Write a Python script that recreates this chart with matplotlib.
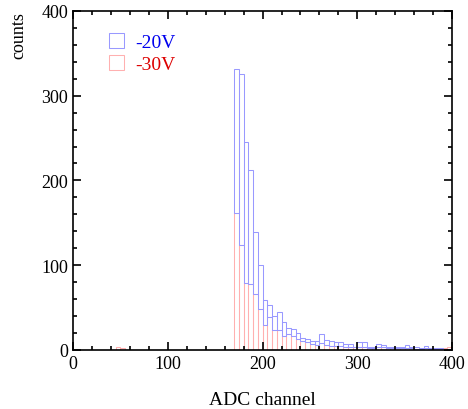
import numpy as np
import matplotlib.pyplot as plt
from matplotlib.patches import Patch
from matplotlib.ticker import MultipleLocator

# histogram bins (left edges, width 5 channels)
bin_width = 5
bins = np.arange(170, 400, 5)

# stacked histogram: -30V at the bottom, total height on top
counts_total = [332, 326, 245, 212, 139, 100, 59, 53, 40, 45,
                33, 26, 25, 20, 14, 13, 11, 10, 19, 12,
                11, 9, 9, 7, 7, 4, 9, 9, 3, 3,
                7, 6, 3, 3, 3, 3, 6, 3, 3, 2,
                5, 2, 2, 2, 2, 4]
counts_30 = [162, 124, 79, 78, 66, 48, 29, 39, 24, 23,
             17, 19, 17, 13, 11, 9, 7, 6, 8, 6,
             5, 5, 5, 3, 4, 3, 4, 3, 2, 2,
             3, 3, 2, 2, 2, 2, 2, 2, 1, 1,
             2, 1, 1, 1, 2, 4]
# a few stray -30V entries at low channel
low_bins = [45, 50]
low_counts_30 = [3, 2]

counts_20 = np.array(counts_total) - np.array(counts_30)

blue = '#9999ff'
red = '#ffb0b0'

plt.rcParams['font.family'] = ['Liberation Serif', 'DejaVu Serif']

fig = plt.figure(figsize=(4.68, 4.10), dpi=100)
ax = fig.add_axes([0.156, 0.144, 0.81, 0.827])

ax.bar(low_bins, low_counts_30, width=bin_width, align='edge',
       facecolor='none', edgecolor=red, linewidth=0.75)
ax.bar(bins, counts_30, width=bin_width, align='edge',
       facecolor='none', edgecolor=red, linewidth=0.75)
m = counts_20 > 0
ax.bar(bins[m], counts_20[m], bottom=np.array(counts_30)[m], width=bin_width,
       align='edge', facecolor='none', edgecolor=blue, linewidth=0.75)

ax.set_xlim(0, 400)
ax.set_ylim(0, 400)
ax.xaxis.set_major_locator(MultipleLocator(100))
ax.xaxis.set_minor_locator(MultipleLocator(20))
ax.yaxis.set_major_locator(MultipleLocator(100))
ax.yaxis.set_minor_locator(MultipleLocator(20))
ax.tick_params(which='both', direction='in', top=True, right=True,
               labelsize=13, width=1.2)
ax.tick_params(which='major', length=6)
ax.tick_params(which='minor', length=3)
for sp in ax.spines.values():
    sp.set_linewidth(1.2)

ax.set_xlabel('ADC channel', fontsize=14, labelpad=14)
ax.set_ylabel('counts', fontsize=13, loc='top', labelpad=10)

handles = [Patch(facecolor='none', edgecolor=blue, linewidth=0.75),
           Patch(facecolor='none', edgecolor=red, linewidth=0.75)]
leg = ax.legend(handles, ['-20V', '-30V'], loc='upper left',
                bbox_to_anchor=(0.05, 0.985), frameon=False, fontsize=14,
                handlelength=0.75, handleheight=0.75, handletextpad=0.6,
                labelspacing=0.2)
leg.get_texts()[0].set_color('#0000ee')
leg.get_texts()[1].set_color('#dd0000')

fig.savefig('out.png', dpi=100)
